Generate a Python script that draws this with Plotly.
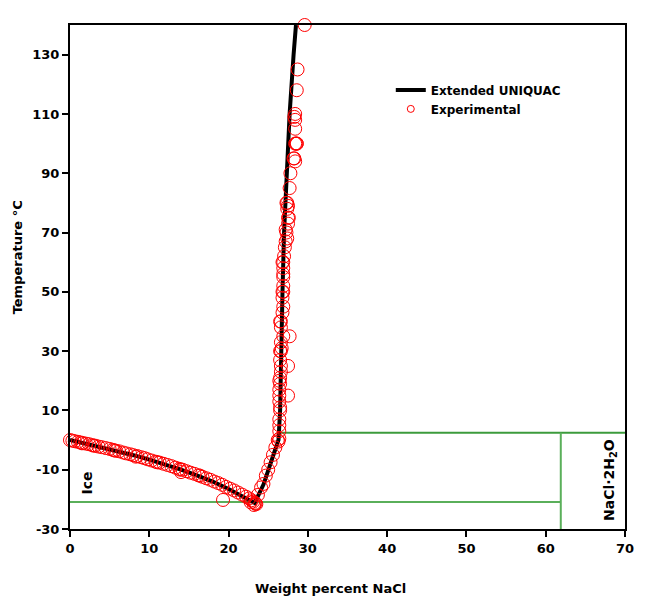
import plotly.graph_objects as go

# ---- data -------------------------------------------------------------
# Extended UNIQUAC model curve (wt% NaCl, T in degC)
model_w = [0.0, 2.0, 4.0, 6.0, 8.0, 10.0, 12.0, 14.0, 16.0, 18.0, 20.0, 22.0, 23.3,
           24.4, 25.0, 25.6, 26.3,
           26.5, 26.6, 26.8, 27.0, 27.3, 27.7, 28.2, 28.5]
model_T = [0.0, -1.2, -2.4, -3.7, -5.1, -6.6, -8.2, -10.0, -11.9, -14.0, -16.5, -19.2, -21.2,
           -15.0, -10.0, -5.0, 0.1,
           10.0, 30.0, 50.0, 70.0, 90.0, 110.0, 130.0, 140.0]

# Experimental points: ice branch
ice_w = [0.0, 0.3, 0.6, 1.0, 1.3, 1.6, 2.0, 2.4, 2.8, 3.2,
         3.6, 4.0, 4.5, 5.0, 5.4, 5.8, 6.2, 6.7, 7.1, 7.6,
         8.0, 8.5, 9.0, 9.4, 9.8, 10.3, 10.8, 11.3, 11.8, 12.3,
         12.8, 13.3, 13.8, 14.2, 14.7, 15.2, 15.7, 16.2, 16.7, 17.2,
         17.7, 18.2, 18.7, 19.2, 19.7, 20.2, 20.7, 21.2, 21.7, 22.2,
         22.6, 22.9, 23.1, 23.3, 23.5, 23.2, 22.8, 23.4,
         1.5, 3.0, 5.6, 8.3, 11.0, 13.9, 14.0, 16.4, 19.3]
ice_T = [0.0, -0.2, -0.4, -0.6, -0.8, -1.0, -1.2, -1.4, -1.7, -1.9,
         -2.2, -2.4, -2.7, -3.0, -3.3, -3.6, -3.8, -4.2, -4.5, -4.8,
         -5.1, -5.4, -5.8, -6.1, -6.5, -6.9, -7.3, -7.6, -8.0, -8.4,
         -8.8, -9.3, -9.7, -10.0, -10.5, -11.0, -11.4, -11.9, -12.4, -12.9,
         -13.4, -14.0, -14.5, -15.1, -15.8, -16.4, -17.0, -17.7, -18.4, -19.1,
         -19.7, -20.3, -20.8, -21.2, -21.6, -21.9, -21.0, -21.4,
         -1.1, -1.9, -3.5, -5.6, -7.5, -10.0, -10.8, -12.0, -20.2]

# Experimental points: NaCl·2H2O branch
hyd_w = [23.7, 24.1, 24.4, 24.7, 25.0, 25.3, 25.6, 25.9]
hyd_T = [-18.5, -16.0, -14.8, -12.0, -10.0, -7.5, -5.0, -2.5]

# Experimental points: NaCl branch
nacl_w = [26.3, 26.2, 26.4, 26.4, 26.4, 26.4, 26.5, 26.5, 26.4, 26.4,
          27.5, 26.4, 26.5, 26.4, 26.5, 26.6, 26.6, 27.5, 26.5, 26.6,
          26.5, 26.7, 26.6, 26.9, 27.7, 26.6, 26.6, 26.5, 26.8, 26.9,
          26.8, 26.9, 26.8, 26.9, 26.9, 26.9, 26.9, 26.8, 26.9, 27.0,
          27.1, 27.2, 27.4, 27.3, 27.2, 27.5, 27.5, 27.6, 27.4, 27.5,
          27.4, 27.3, 27.7, 27.8, 28.2, 28.4, 28.3, 28.5, 28.6, 28.6,
          28.4, 28.4, 28.4, 28.3, 28.4, 28.6, 28.7, 29.6]
nacl_T = [-0.5, 0.0, 0.5, 3.0, 5.0, 7.0, 10.0, 11.0, 13.0, 15.0,
          15.0, 17.0, 19.0, 20.0, 21.0, 23.0, 25.0, 25.0, 27.0, 30.0,
          30.0, 31.0, 33.0, 35.0, 35.0, 38.0, 40.0, 40.0, 43.0, 45.0,
          48.0, 50.0, 50.0, 52.0, 55.0, 56.0, 58.0, 60.0, 60.0, 62.0,
          65.0, 67.0, 68.0, 70.0, 71.0, 73.0, 75.0, 75.0, 78.0, 79.0,
          80.0, 80.0, 85.0, 90.0, 95.0, 94.0, 95.0, 100.0, 100.0, 100.0,
          100.0, 105.0, 108.0, 109.0, 110.0, 118.0, 125.0, 140.0]

exp_w = ice_w + hyd_w + nacl_w
exp_T = ice_T + hyd_T + nacl_T

# Phase boundary guides
T_hydrate_transition = 2.5
T_eutectic = -20.9
w_hydrate = 61.9
w_transition = 26.4

x_ticks = [0, 10, 20, 30, 40, 50, 60, 70]
y_ticks = [-30, -10, 10, 30, 50, 70, 90, 110, 130]

FONT = "DejaVu Sans"
GREEN = "#3c9b3c"
LIGHTGREEN = "#5aaf5a"
RED = "#ff0000"

fig = go.Figure()

fig.add_trace(go.Scatter(
    x=model_w, y=model_T, mode="lines", name="<b>Extended UNIQUAC</b>",
    line=dict(color="black", width=4),
))
fig.add_trace(go.Scatter(
    x=exp_w, y=exp_T, mode="markers", name="Experimental", showlegend=False,
    marker=dict(symbol="circle-open", size=13, color=RED, line=dict(width=1, color=RED)),
    cliponaxis=False,
))
# legend entry for the experimental markers (small symbol as in the reference)
fig.add_trace(go.Scatter(
    x=[None], y=[None], mode="markers", name="<b>Experimental</b>",
    marker=dict(symbol="circle-open", size=7, color=RED, line=dict(width=1, color=RED)),
))

# green phase boundary lines
fig.add_shape(type="line", xref="x", yref="y", x0=w_transition, x1=70,
              y0=T_hydrate_transition, y1=T_hydrate_transition,
              line=dict(color=GREEN, width=2), layer="below")
fig.add_shape(type="line", xref="x", yref="y", x0=0, x1=w_hydrate,
              y0=T_eutectic, y1=T_eutectic,
              line=dict(color=LIGHTGREEN, width=2), layer="below")
fig.add_shape(type="line", xref="x", yref="y", x0=w_hydrate, x1=w_hydrate,
              y0=-30, y1=T_hydrate_transition,
              line=dict(color=LIGHTGREEN, width=2), layer="below")

fig.add_annotation(x=2.2, y=-14.5, xref="x", yref="y", text="<b>Ice</b>", textangle=-90,
                   showarrow=False, font=dict(family=FONT, size=14, color="black"))
fig.add_annotation(x=68.1, y=-13.5, xref="x", yref="y", text="<b>NaCl·2H<sub>2</sub>O</b>",
                   textangle=-90, showarrow=False, font=dict(family=FONT, size=14, color="black"))

# axis titles (placed off-centre as in the reference)
fig.add_annotation(x=0.470, y=-0.119, xref="paper", yref="paper",
                   text="<b>Weight percent NaCl</b>", showarrow=False,
                   xanchor="center", yanchor="middle",
                   font=dict(family=FONT, size=13, color="black"))
fig.add_annotation(x=-0.1117, y=0.538, xref="paper", yref="paper",
                   text="<b>Temperature °C</b>", showarrow=False, textangle=-90,
                   xanchor="left", yanchor="middle",
                   font=dict(family=FONT, size=13, color="black"))

# page body adds an ~8px margin, so the figure is shrunk and shifted to compensate
fig.update_layout(
    width=644, height=605,
    margin=dict(l=62, r=27, t=17, b=84),
    paper_bgcolor="white", plot_bgcolor="white",
    font=dict(family=FONT, size=13, color="black"),
    showlegend=True,
    legend=dict(x=0.578, y=0.9, xanchor="left", yanchor="top",
                bgcolor="rgba(0,0,0,0)", font=dict(family=FONT, size=12, color="black"),
                tracegroupgap=0, itemsizing="trace"),
    xaxis=dict(range=[0, 70], tickvals=x_ticks, ticktext=[f"<b>{v}</b>" for v in x_ticks],
               showline=True, linecolor="black", linewidth=2, mirror=True,
               ticks="outside", ticklen=6, tickwidth=1.5, tickcolor="black",
               showgrid=False, zeroline=False, automargin=False),
    yaxis=dict(range=[-30, 140], tickvals=y_ticks, ticktext=[f"<b>{v}</b>" for v in y_ticks],
               showline=True, linecolor="black", linewidth=2, mirror=True,
               ticks="outside", ticklen=6, tickwidth=1.5, tickcolor="black",
               showgrid=False, zeroline=False, automargin=False),
)

fig.write_html("out.html")
